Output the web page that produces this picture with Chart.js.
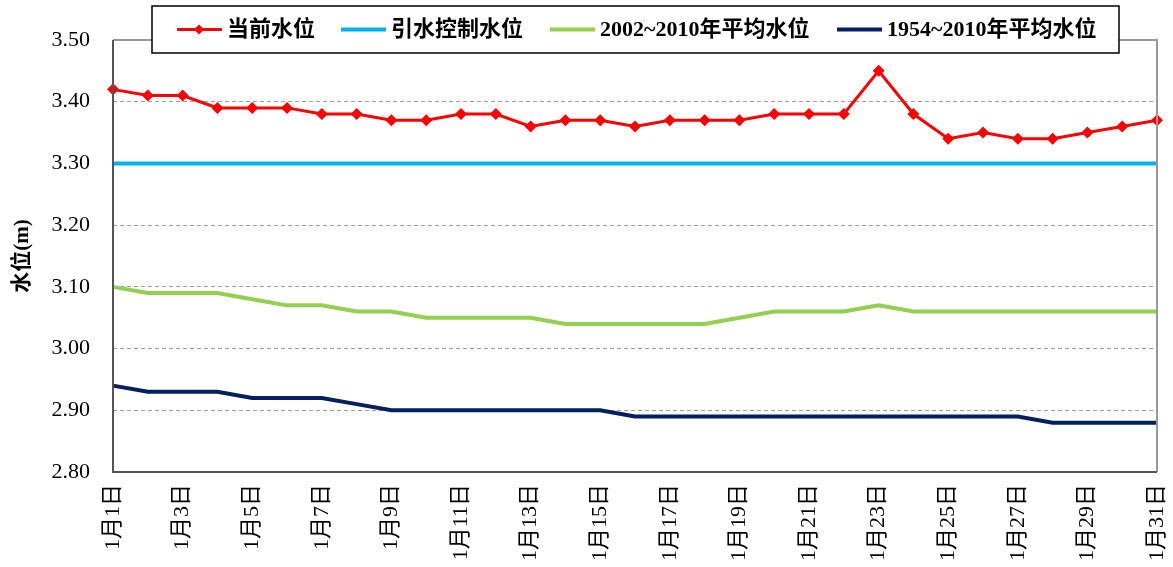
<!DOCTYPE html>
<html>
<head>
<meta charset="utf-8">
<script src="https://cdn.jsdelivr.net/npm/chart.js@4"></script>
<style>
    html, body { margin: 0; padding: 0; background: #fff; }
    #wrap { width: 1173px; height: 567px; }
</style>
</head>
<body>
<div id="wrap"><canvas id="levelChart" width="1173" height="567"></canvas></div>
<script>
// Data
const days = ['1月1日', '1月2日', '1月3日', '1月4日', '1月5日', '1月6日', '1月7日', '1月8日', '1月9日', '1月10日',
    '1月11日', '1月12日', '1月13日', '1月14日', '1月15日', '1月16日', '1月17日', '1月18日', '1月19日', '1月20日',
    '1月21日', '1月22日', '1月23日', '1月24日', '1月25日', '1月26日', '1月27日', '1月28日', '1月29日', '1月30日', '1月31日'];

const currentLevel = [3.42, 3.41, 3.41, 3.39, 3.39, 3.39, 3.38, 3.38, 3.37, 3.37,
    3.38, 3.38, 3.36, 3.37, 3.37, 3.36, 3.37, 3.37, 3.37, 3.38,
    3.38, 3.38, 3.45, 3.38, 3.34, 3.35, 3.34, 3.34, 3.35, 3.36, 3.37];

const controlLevel = [3.30, 3.30, 3.30, 3.30, 3.30, 3.30, 3.30, 3.30, 3.30, 3.30,
    3.30, 3.30, 3.30, 3.30, 3.30, 3.30, 3.30, 3.30, 3.30, 3.30,
    3.30, 3.30, 3.30, 3.30, 3.30, 3.30, 3.30, 3.30, 3.30, 3.30, 3.30];

const avg2002 = [3.10, 3.09, 3.09, 3.09, 3.08, 3.07, 3.07, 3.06, 3.06, 3.05,
    3.05, 3.05, 3.05, 3.04, 3.04, 3.04, 3.04, 3.04, 3.05, 3.06,
    3.06, 3.06, 3.07, 3.06, 3.06, 3.06, 3.06, 3.06, 3.06, 3.06, 3.06];

const avg1954 = [2.94, 2.93, 2.93, 2.93, 2.92, 2.92, 2.92, 2.91, 2.90, 2.90,
    2.90, 2.90, 2.90, 2.90, 2.90, 2.89, 2.89, 2.89, 2.89, 2.89,
    2.89, 2.89, 2.89, 2.89, 2.89, 2.89, 2.89, 2.88, 2.88, 2.88, 2.88];

const seriesNames = ['当前水位', '引水控制水位', '2002~2010年平均水位', '1954~2010年平均水位'];
const seriesColors = ['#ff0000', '#00b0f0', '#92d050', '#002060'];

const yMin = 2.80, yMax = 3.50, yStep = 0.10;
const yTitle = '水位(m)';

const serif = '"Liberation Serif", "Times New Roman", "Noto Sans CJK SC", serif';

// Frame around plot area
const framePlugin = {
    id: 'frame',
    afterDatasetsDraw(chart) {
        const { ctx, chartArea: a } = chart;
        ctx.save();
        ctx.lineWidth = 2;
        ctx.strokeStyle = '#999999';
        ctx.beginPath();
        ctx.moveTo(a.left, a.top);
        ctx.lineTo(a.right, a.top);
        ctx.lineTo(a.right, a.bottom);
        ctx.stroke();
        ctx.strokeStyle = '#555555';
        ctx.beginPath();
        ctx.moveTo(a.left, a.top);
        ctx.lineTo(a.left, a.bottom);
        ctx.lineTo(a.right, a.bottom);
        ctx.stroke();
        ctx.restore();
    }
};

// Boxed legend that sits over the top of the plot
const legendPlugin = {
    id: 'boxLegend',
    afterDraw(chart) {
        const ctx = chart.ctx;
        const box = { x: 152, y: 6, w: 967, h: 47 };
        const starts = [177, 341, 550, 837];
        const midY = box.y + box.h / 2;
        ctx.save();
        ctx.fillStyle = '#ffffff';
        ctx.fillRect(box.x, box.y, box.w, box.h);
        ctx.strokeStyle = '#000000';
        ctx.lineWidth = 1.5;
        ctx.strokeRect(box.x, box.y, box.w, box.h);
        ctx.font = 'bold 22px ' + serif;
        ctx.textBaseline = 'middle';
        ctx.fillStyle = '#000000';
        seriesNames.forEach((name, i) => {
            const x0 = starts[i];
            ctx.strokeStyle = seriesColors[i];
            ctx.lineWidth = i === 0 ? 3 : 4;
            ctx.beginPath();
            ctx.moveTo(x0, midY);
            ctx.lineTo(x0 + 45, midY);
            ctx.stroke();
            if (i === 0) {
                ctx.fillStyle = seriesColors[0];
                ctx.beginPath();
                ctx.moveTo(x0 + 22, midY - 5);
                ctx.lineTo(x0 + 27, midY);
                ctx.lineTo(x0 + 22, midY + 5);
                ctx.lineTo(x0 + 17, midY);
                ctx.closePath();
                ctx.fill();
                ctx.fillStyle = '#000000';
            }
            ctx.fillText(name, x0 + 50, midY + 1);
        });
        ctx.restore();
    }
};

const ctx = document.getElementById('levelChart').getContext('2d');
new Chart(ctx, {
    type: 'line',
    data: {
        labels: days,
        datasets: [
            {
                label: seriesNames[0],
                data: currentLevel,
                borderColor: seriesColors[0],
                backgroundColor: seriesColors[0],
                borderWidth: 3,
                pointStyle: 'rectRot',
                pointRadius: 6,
                pointBorderWidth: 0,
                tension: 0
            },
            {
                label: seriesNames[1],
                data: controlLevel,
                borderColor: seriesColors[1],
                borderWidth: 4,
                pointRadius: 0,
                tension: 0
            },
            {
                label: seriesNames[2],
                data: avg2002,
                borderColor: seriesColors[2],
                borderWidth: 4,
                pointRadius: 0,
                tension: 0
            },
            {
                label: seriesNames[3],
                data: avg1954,
                borderColor: seriesColors[3],
                borderWidth: 4,
                pointRadius: 0,
                tension: 0
            }
        ]
    },
    options: {
        responsive: false,
        animation: false,
        layout: { padding: { top: 40, right: 16, left: 0, bottom: 0 } },
        plugins: {
            legend: { display: false },
            tooltip: { enabled: false }
        },
        scales: {
            x: {
                offset: false,
                grid: { display: false, drawTicks: false },
                border: { display: false },
                ticks: {
                    autoSkip: false,
                    minRotation: 90,
                    maxRotation: 90,
                    padding: 12,
                    color: '#000000',
                    font: { family: serif, size: 22 },
                    callback: (value, index) => index % 2 === 0 ? days[index] : ''
                },
                afterFit: (scale) => {
                    scale.height = 95;
                    scale.paddingLeft = 0;
                    scale.paddingRight = 0;
                }
            },
            y: {
                min: yMin,
                max: yMax,
                grid: {
                    color: '#a0a0a0',
                    lineWidth: 1,
                    drawTicks: false
                },
                border: { display: false, dash: [4, 3] },
                ticks: {
                    stepSize: yStep,
                    padding: 23,
                    color: '#000000',
                    font: { family: serif, size: 22 },
                    callback: (v) => v.toFixed(2)
                },
                title: {
                    display: true,
                    text: yTitle,
                    color: '#000000',
                    font: { family: serif, size: 21, weight: 'bold' },
                    padding: { top: 10, bottom: 4 }
                },
                afterFit: (scale) => {
                    scale.width = 113;
                    scale.paddingTop = 0;
                    scale.paddingBottom = 0;
                }
            }
        }
    },
    plugins: [framePlugin, legendPlugin]
});
</script>
</body>
</html>
